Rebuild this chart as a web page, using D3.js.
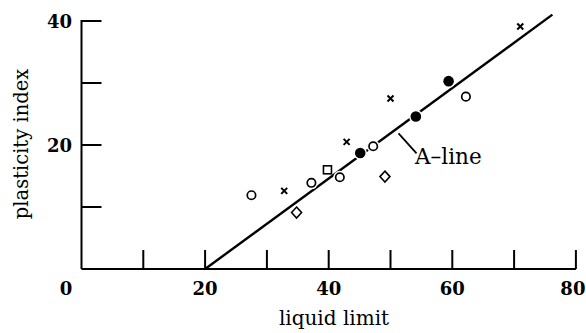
<!DOCTYPE html>
<html>
<head>
<meta charset="utf-8">
<script src="https://cdn.jsdelivr.net/npm/d3@7"></script>
<style>
  html, body { margin: 0; padding: 0; background: #fff; }
  svg { display: block; }
</style>
</head>
<body>
<svg id="chart" width="586" height="333"></svg>
<script>
// Casagrande plasticity chart: liquid limit vs plasticity index
const xTicks = [0, 10, 20, 30, 40, 50, 60, 70, 80];
const xTickLabels = [0, 20, 40, 60, 80];
const yTicks = [10, 20, 30, 40];
const yTickLabels = [20, 40];

// soil samples, grouped by symbol
const openLL = [27.5, 37.2, 41.8, 47.2, 62.2];
const openPI = [11.9, 13.9, 14.8, 19.8, 27.8];
const filledLL = [45.1, 54.1, 59.4];
const filledPI = [18.7, 24.6, 30.3];
const crossLL = [32.8, 42.9, 50.0, 71.0];
const crossPI = [12.6, 20.5, 27.5, 39.1];
const squareLL = [39.8];
const squarePI = [16.0];
const diamondLL = [34.8, 49.1];
const diamondPI = [9.1, 14.9];

// A-line: PI = 0.73 (LL - 20)
const aLineLL = [20, 76.2];
const aLineSlope = 0.73;

const svg = d3.select("#chart");
const x = d3.scaleLinear().domain([0, 80]).range([81.5, 575.9]);
const y = d3.scaleLinear().domain([0, 40]).range([269, 21]);

const serif = "'DejaVu Serif', 'Liberation Serif', serif";

// A-line
const aLine = aLineLL.map(v => [v, aLineSlope * (v - 20)]);
svg.append("path")
  .attr("d", d3.line().x(d => x(d[0])).y(d => y(d[1]))(aLine))
  .attr("fill", "none").attr("stroke", "#000").attr("stroke-width", 2.4);

// axes
const ax = svg.append("g").attr("stroke", "#000").attr("stroke-width", 2).attr("fill", "none");
ax.append("line").attr("x1", x(0)).attr("x2", x(80)).attr("y1", y(0)).attr("y2", y(0));
ax.append("line").attr("x1", x(0)).attr("x2", x(0)).attr("y1", y(0)).attr("y2", y(40) - 1);
ax.selectAll(".xt").data(xTicks.filter(d => d > 0)).join("line")
  .attr("x1", d => x(d)).attr("x2", d => x(d))
  .attr("y1", y(0)).attr("y2", y(0) - 19);
ax.selectAll(".yt").data(yTicks).join("line")
  .attr("x1", x(0)).attr("x2", x(0) + 20)
  .attr("y1", d => y(d)).attr("y2", d => y(d));

// tick labels (the shared origin "0" sits left of the corner, "80" is nudged in from the edge)
svg.selectAll(".xl").data(xTickLabels).join("text")
  .attr("x", d => d === 0 ? x(0) - 15.5 : d === 80 ? x(d) - 3 : x(d))
  .attr("y", 295)
  .attr("text-anchor", "middle")
  .attr("font-family", serif).attr("font-weight", "bold").attr("font-size", 18)
  .text(d => d);
svg.selectAll(".yl").data(yTickLabels).join("text")
  .attr("x", 72).attr("y", d => y(d) + 7)
  .attr("text-anchor", "end")
  .attr("font-family", serif).attr("font-weight", "bold").attr("font-size", 18)
  .text(d => d);

// axis titles
svg.append("text")
  .attr("x", 334).attr("y", 325)
  .attr("text-anchor", "middle")
  .attr("font-family", serif).attr("font-size", 20)
  .text("liquid limit");
svg.append("text")
  .attr("transform", "translate(28,144) rotate(-90)")
  .attr("text-anchor", "middle")
  .attr("font-family", serif).attr("font-size", 19.5)
  .text("plasticity index");

// markers with a white halo so the A-line breaks around them
const mk = svg.append("g");
function pts(ll, pi) { return ll.map((v, i) => [x(v), y(pi[i])]); }

function drawCircles(data, r, filled) {
  mk.selectAll(null).data(data).join("circle")
    .attr("cx", d => d[0]).attr("cy", d => d[1]).attr("r", r + 1.5)
    .attr("fill", "#fff");
  mk.selectAll(null).data(data).join("circle")
    .attr("cx", d => d[0]).attr("cy", d => d[1]).attr("r", filled ? r : r - 0.8)
    .attr("fill", filled ? "#000" : "#fff")
    .attr("stroke", filled ? "none" : "#000").attr("stroke-width", 1.7);
}
drawCircles(pts(openLL, openPI), 5, false);
drawCircles(pts(filledLL, filledPI), 5.3, true);

const sq = pts(squareLL, squarePI);
mk.selectAll(null).data(sq).join("rect")
  .attr("x", d => d[0] - 4).attr("y", d => d[1] - 4)
  .attr("width", 8).attr("height", 8)
  .attr("fill", "#fff").attr("stroke", "#000").attr("stroke-width", 1.6);

const dm = pts(diamondLL, diamondPI);
mk.selectAll(null).data(dm).join("path")
  .attr("d", d => `M${d[0]},${d[1] - 5.5}L${d[0] + 5},${d[1]}L${d[0]},${d[1] + 5.5}L${d[0] - 5},${d[1]}Z`)
  .attr("fill", "#fff").attr("stroke", "#000").attr("stroke-width", 1.6);

const cr = pts(crossLL, crossPI);
mk.selectAll(null).data(cr).join("path")
  .attr("d", d => `M${d[0] - 3},${d[1] - 3}L${d[0] + 3},${d[1] + 3}M${d[0] + 3},${d[1] - 3}L${d[0] - 3},${d[1] + 3}`)
  .attr("fill", "none").attr("stroke", "#000").attr("stroke-width", 2);

// A-line label with leader
const leadLL = 51.3;
const lx = x(leadLL), ly = y(aLineSlope * (leadLL - 20));
svg.append("line")
  .attr("x1", lx).attr("y1", ly + 6)
  .attr("x2", lx + 18).attr("y2", ly + 26)
  .attr("stroke", "#000").attr("stroke-width", 1.8);
svg.append("text")
  .attr("x", 415).attr("y", 164)
  .attr("font-family", serif).attr("font-size", 21.5)
  .text("A\u2013line");
</script>
</body>
</html>
